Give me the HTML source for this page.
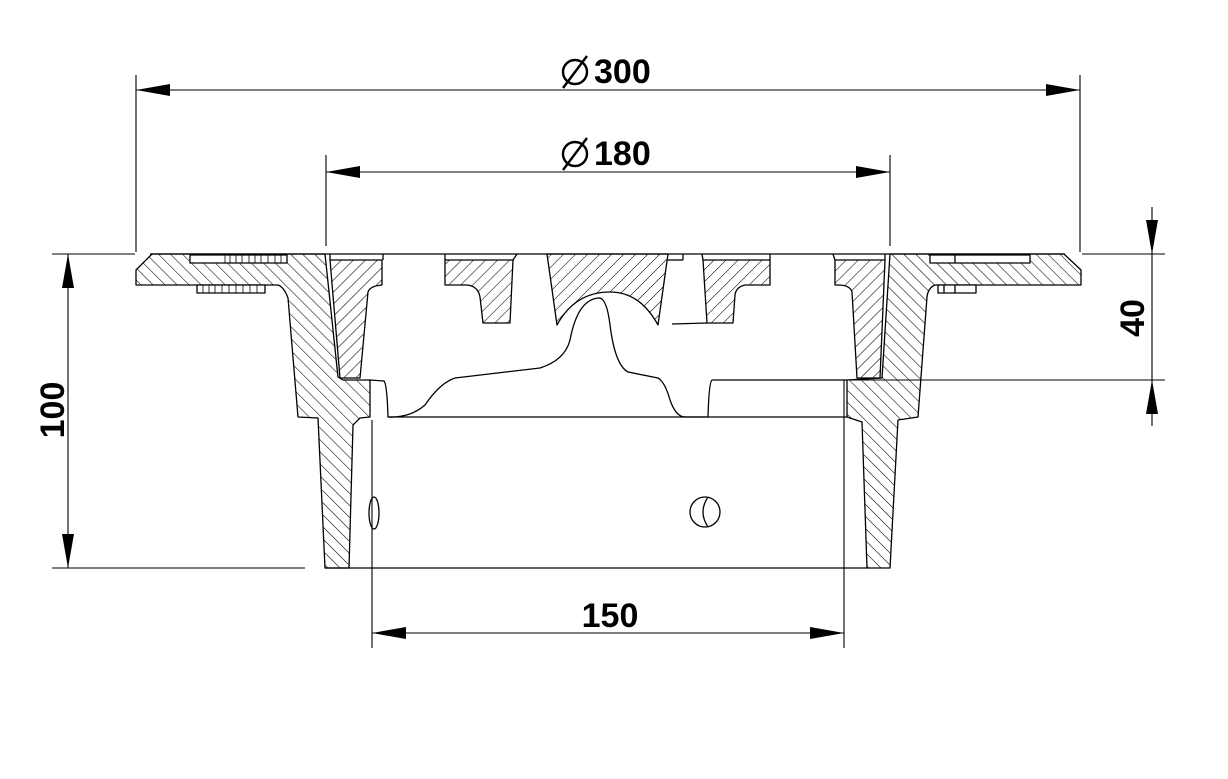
<!DOCTYPE html>
<html><head><meta charset="utf-8"><style>
html,body{margin:0;padding:0;background:#fff;}
svg{display:block;}
text{font-family:"Liberation Sans",Arial,sans-serif;fill:#000;font-weight:bold;}
</style></head><body>
<svg width="1228" height="779" viewBox="0 0 1228 779" xmlns="http://www.w3.org/2000/svg">
<defs>
<pattern id="hf" patternUnits="userSpaceOnUse" width="8.5" height="8.5" patternTransform="rotate(45)">
<line x1="0" y1="0" x2="0" y2="8.5" stroke="#000" stroke-width="1.1"/></pattern>
<pattern id="hb" patternUnits="userSpaceOnUse" width="8.5" height="8.5" patternTransform="rotate(-45)">
<line x1="0" y1="0" x2="0" y2="8.5" stroke="#000" stroke-width="1.1"/></pattern>
</defs>
<g stroke="#000" stroke-width="1.3" fill="none" stroke-linejoin="round">
<line x1="150" y1="254" x2="1065" y2="254"/>
<path fill="url(#hb)" d="M152,254 L325,254 L338,377 L343,380 L370,380 L370,417 L360,418 L353,425 L349,568 L325,568 L318,418 L298,417 L288,298 Q284,287 278,285 L136,285 L136,270 Z"/>
<rect x="190" y="255" width="97" height="8" fill="#fff"/>
<rect x="197" y="285" width="68" height="8" fill="#fff"/>
<g stroke-width="0.8">
<line x1="225" y1="255" x2="225" y2="263"/><line x1="230" y1="255" x2="230" y2="263"/><line x1="236" y1="255" x2="236" y2="263"/><line x1="242" y1="255" x2="242" y2="263"/><line x1="249" y1="255" x2="249" y2="263"/><line x1="255" y1="255" x2="255" y2="263"/><line x1="261" y1="255" x2="261" y2="263"/><line x1="268" y1="255" x2="268" y2="263"/><line x1="275" y1="255" x2="275" y2="263"/><line x1="281" y1="255" x2="281" y2="263"/>
<line x1="203" y1="285" x2="203" y2="293"/><line x1="209" y1="285" x2="209" y2="293"/><line x1="215" y1="285" x2="215" y2="293"/><line x1="222" y1="285" x2="222" y2="293"/><line x1="229" y1="285" x2="229" y2="293"/><line x1="236" y1="285" x2="236" y2="293"/><line x1="243" y1="285" x2="243" y2="293"/><line x1="250" y1="285" x2="250" y2="293"/><line x1="257" y1="285" x2="257" y2="293"/>
</g>
<path fill="url(#hf)" d="M330,260 L382,260 L382,285 Q370,286 368,292 L360,378 L340,378 Z"/>
<line x1="330" y1="260" x2="330" y2="254"/><line x1="383" y1="260" x2="383" y2="254"/>
<path fill="url(#hf)" d="M445,260 L513,260 L510,323 L483,323 L480,297 Q478,286 467,285 L445,285 Z"/>
<line x1="445" y1="260" x2="445" y2="254"/><line x1="513" y1="260" x2="517" y2="254"/>
<path fill="url(#hf)" d="M547,254 L668,254 L658,325 Q640,292 610,292 Q575,292 557,325 Z"/>
<path fill="url(#hf)" d="M703,260 L770,260 L770,285 L745,285 Q736,287 735,295 L733,323 L707,323 Z"/>
<line x1="703" y1="260" x2="702" y2="254"/><line x1="770" y1="260" x2="770" y2="254"/>
<line x1="683" y1="254" x2="683" y2="260"/><line x1="668" y1="260" x2="683" y2="260"/>
<line x1="672" y1="324" x2="707" y2="323"/>
<path fill="url(#hf)" d="M835,260 L885,260 L880,378 L857,378 L852,292 Q850,285 838,285 L835,285 Z"/>
<line x1="835" y1="260" x2="833" y2="254"/><line x1="885" y1="260" x2="885" y2="254"/>
<path fill="url(#hb)" d="M890,254 L1064,254 L1081,270 L1081,285 L935,285 Q928,288 927,297 L918,417 L898,420 L890,568 L867,568 L862,422 L847,417 L847,380 L882,378 Z"/>
<rect x="930" y="255" width="100" height="8" fill="#fff"/>
<rect x="938" y="285" width="38" height="8" fill="#fff"/>
<line x1="955" y1="255" x2="955" y2="263"/><line x1="944" y1="285" x2="944" y2="293"/><line x1="955" y1="285" x2="955" y2="293"/>
<path d="M370,380 L384,381 Q387,384 388,417 L847,417"/>
<path d="M388,417 Q410,418 425,405 Q440,383 455,378 L540,368 Q565,360 570,340 Q578,298 600,298 Q607,300 610,325 Q615,365 628,372 L658,378 Q665,382 670,400 Q676,417 685,417 L708,417 Q709,382 712,380 L847,380"/>
<ellipse cx="374" cy="513" rx="5" ry="16"/>
<circle cx="705" cy="512" r="15"/>
<path d="M708,497 Q698,512 708,527"/>
</g>
<g stroke="#000" stroke-width="1.1" fill="none">
<line x1="136" y1="75" x2="136" y2="252"/><line x1="1080" y1="75" x2="1080" y2="252"/>
<line x1="136" y1="90" x2="1080" y2="90"/>
<line x1="326" y1="155" x2="326" y2="246"/><line x1="890" y1="155" x2="890" y2="246"/>
<line x1="326" y1="172" x2="890" y2="172"/>
<line x1="52" y1="254" x2="135" y2="254"/><line x1="52" y1="568" x2="305" y2="568"/>
<line x1="68" y1="254" x2="68" y2="568"/>
<line x1="1082" y1="254" x2="1165" y2="254"/><line x1="850" y1="380" x2="1165" y2="380"/>
<line x1="1152" y1="207" x2="1152" y2="426"/>
<line x1="372" y1="420" x2="372" y2="648"/><line x1="844" y1="380" x2="844" y2="648"/>
<line x1="372" y1="633" x2="844" y2="633"/>
<line x1="325" y1="568" x2="867" y2="568" stroke-width="1.3"/>
</g>
<g fill="#000">
<polygon points="136,90 170,84 170,96"/><polygon points="1080,90 1046,84 1046,96"/>
<polygon points="326,172 360,166 360,178"/><polygon points="890,172 856,166 856,178"/>
<polygon points="68,254 62,288 74,288"/><polygon points="68,568 62,534 74,534"/>
<polygon points="1152,254 1146,220 1158,220"/><polygon points="1152,380 1146,414 1158,414"/>
<polygon points="372,633 406,627 406,639"/><polygon points="844,633 810,627 810,639"/>
</g>
<g stroke="#000" stroke-width="2.4" fill="none">
<circle cx="575" cy="72" r="12"/><line x1="563" y1="88" x2="587" y2="56"/>
<circle cx="575" cy="154" r="12"/><line x1="563" y1="170" x2="587" y2="138"/>
</g>
<text x="594" y="83" font-size="34">300</text>
<text x="594" y="165" font-size="34">180</text>
<text x="610" y="627" font-size="34" text-anchor="middle">150</text>
<text transform="translate(64,410) rotate(-90)" font-size="34" text-anchor="middle">100</text>
<text transform="translate(1144,318) rotate(-90)" font-size="34" text-anchor="middle">40</text>
</svg>
</body></html>
